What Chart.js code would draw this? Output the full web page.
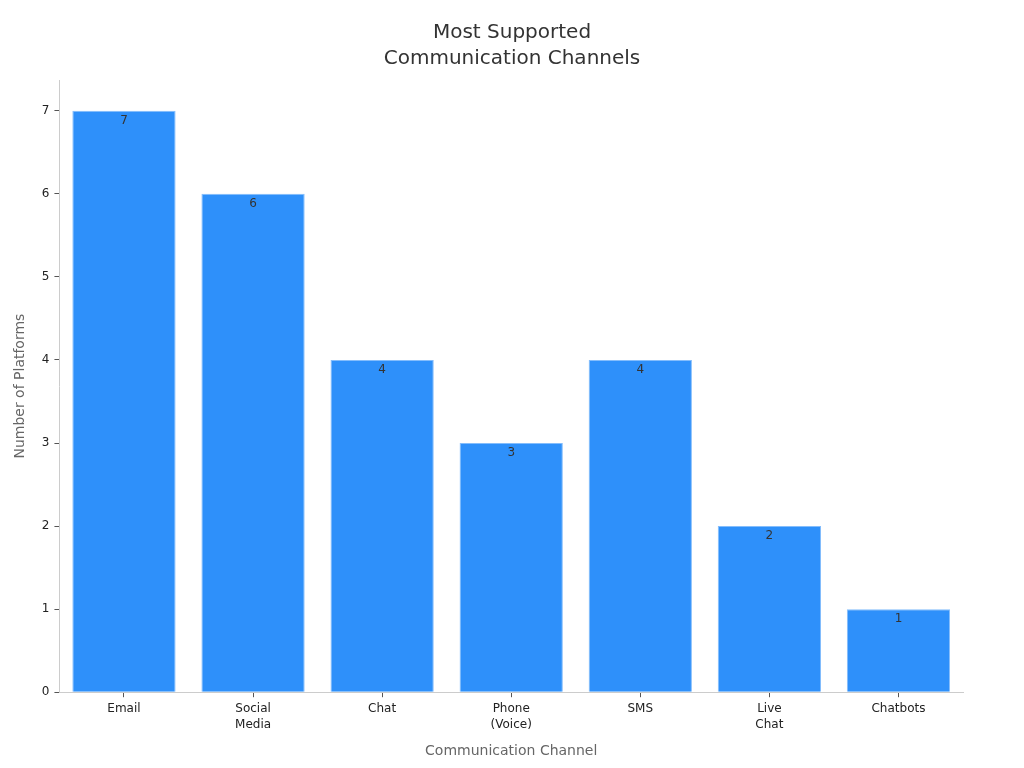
<!DOCTYPE html>
<html>
<head>
<meta charset="utf-8">
<script src="https://cdn.jsdelivr.net/npm/chart.js@4"></script>
<style>
  html, body { margin: 0; padding: 0; background: #fff; }
  #wrap { width: 1024px; height: 768px; }
</style>
</head>
<body>
<div id="wrap"><canvas id="chart" width="1024" height="768"></canvas></div>
<script>
const titleLines = ['Most Supported', 'Communication Channels'];
const channels = [['Email'], ['Social', 'Media'], ['Chat'], ['Phone', '(Voice)'], ['SMS'], ['Live', 'Chat'], ['Chatbots']];
const platformCounts = [7, 6, 4, 3, 4, 2, 1];
const yTicks = [0, 1, 2, 3, 4, 5, 6, 7];

// value labels just inside the bar tops
const valueLabels = {
  id: 'valueLabels',
  afterDatasetsDraw(chart) {
    const ctx = chart.ctx;
    const meta = chart.getDatasetMeta(0);
    ctx.save();
    ctx.font = '12px "DejaVu Sans"';
    ctx.fillStyle = '#333';
    ctx.textAlign = 'center';
    ctx.textBaseline = 'top';
    meta.data.forEach((bar, i) => {
      ctx.fillText(String(platformCounts[i]), bar.x, bar.y + 4);
    });
    ctx.restore();
  }
};

// title centred on the whole canvas, not the padded box
const pageTitle = {
  id: 'pageTitle',
  afterDraw(chart) {
    const ctx = chart.ctx;
    ctx.save();
    ctx.font = '20px "DejaVu Sans"';
    ctx.fillStyle = '#333';
    ctx.textAlign = 'center';
    ctx.textBaseline = 'middle';
    titleLines.forEach((line, i) => {
      ctx.fillText(line, chart.width / 2, 33 + i * 26);
    });
    ctx.restore();
  }
};

Chart.defaults.font.family = '"DejaVu Sans", sans-serif';

new Chart(document.getElementById('chart').getContext('2d'), {
  type: 'bar',
  data: {
    labels: channels,
    datasets: [{
      data: platformCounts,
      backgroundColor: '#2e90fa',
      borderColor: '#84bdfc',
      borderWidth: 1,
      barPercentage: 0.8,
      categoryPercentage: 1.0
    }]
  },
  options: {
    responsive: false,
    animation: false,
    layout: { padding: { left: 8, right: 61, top: 80, bottom: 4 } },
    scales: {
      x: {
        grid: { display: true, drawOnChartArea: false, offset: false, color: '#555', tickLength: 5, tickWidth: 1 },
        border: { color: '#ccc' },
        ticks: { color: '#222', font: { size: 12, lineHeight: 1.333 }, padding: 4, maxRotation: 0 },
        title: { display: true, text: 'Communication Channel', color: '#666', font: { size: 14 }, padding: { top: 6 } }
      },
      y: {
        min: 0,
        max: 7.37,
        afterBuildTicks(axis) { axis.ticks = yTicks.map(v => ({ value: v })); },
        grid: { display: true, drawOnChartArea: false, color: '#555', tickLength: 5, tickWidth: 1 },
        border: { color: '#ccc' },
        ticks: { color: '#222', font: { size: 12 }, padding: 5 },
        title: { display: true, text: 'Number of Platforms', color: '#666', font: { size: 14 }, padding: { bottom: 8 } }
      }
    },
    plugins: {
      legend: { display: false },
      tooltip: { enabled: false },
      title: { display: false }
    }
  },
  plugins: [valueLabels, pageTitle]
});
</script>
</body>
</html>
